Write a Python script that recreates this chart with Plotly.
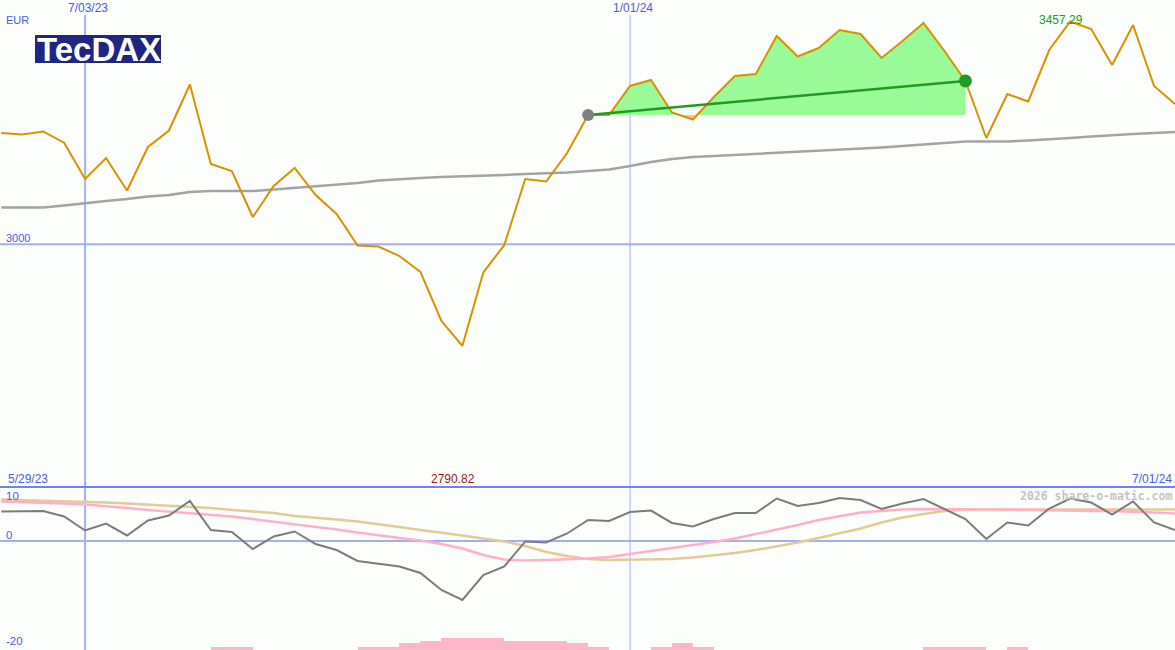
import plotly.graph_objects as go
import pandas as pd

# ---------------- data ----------------
start_date = "2023-06-05"
n_weeks = 57
dates = pd.date_range(start_date, periods=n_weeks, freq="7D")

price = [3228.3, 3225.2, 3231.4, 3208.3, 3133.8, 3176.9, 3110.2, 3199.5, 3233.4, 3327.9,
         3164.6, 3150.2, 3055.7, 3119.4, 3156.4, 3100.9, 3061.9, 2997.2, 2995.2, 2975.6,
         2942.8, 2842.1, 2790.82, 2941.8, 2998.2, 3133.8, 3128.7, 3187.2, 3265.2, 3265.2,
         3324.8, 3337.1, 3270.4, 3256.0, 3302.2, 3345.3, 3349.4, 3427.5, 3385.4, 3402.8,
         3439.8, 3431.6, 3382.3, 3417.2, 3454.2, 3396.7, 3335.1, 3218.0, 3308.4, 3293.0,
         3398.7, 3457.29, 3441.9, 3367.9, 3450.1, 3324.8, 3287.8]

moving_avg = [3075.3, 3075.3, 3075.3, 3079.4, 3084.5, 3088.6, 3092.7, 3097.8, 3100.9, 3107.1,
              3109.1, 3109.1, 3109.1, 3112.2, 3115.3, 3118.4, 3121.5, 3125.6, 3130.7, 3133.8,
              3135.8, 3137.9, 3138.9, 3139.9, 3142.0, 3144.1, 3145.1, 3147.1, 3150.2, 3153.3,
              3160.5, 3168.7, 3174.9, 3179.0, 3181.0, 3183.1, 3185.1, 3187.2, 3189.2, 3191.3,
              3193.3, 3195.4, 3198.5, 3201.6, 3204.6, 3207.7, 3210.8, 3210.8, 3210.8, 3212.9,
              3214.9, 3218.0, 3221.1, 3224.2, 3226.2, 3228.3, 3230.3]

osc_gray = [5.57, 5.57, 5.66, 4.62, 1.98, 3.30, 1.04, 3.87, 4.81, 7.55,
            2.08, 1.70, -1.51, 0.85, 1.79, -0.57, -1.70, -3.77, -4.25, -4.81,
            -6.04, -9.25, -11.13, -6.42, -4.81, -0.09, -0.28, 1.42, 3.96, 3.77,
            5.47, 5.75, 3.40, 2.74, 4.15, 5.28, 5.28, 8.02, 6.60, 7.17,
            8.11, 7.74, 6.04, 7.08, 7.92, 6.04, 4.15, 0.38, 3.49, 2.92,
            6.13, 8.02, 7.26, 5.00, 7.45, 3.49, 2.08]

osc_pink = [7.45, 7.36, 7.17, 7.08, 6.89, 6.60, 6.23, 5.85, 5.57, 5.28,
            5.00, 4.62, 4.15, 3.68, 3.11, 2.64, 2.17, 1.60, 1.04, 0.57,
            0.09, -0.57, -1.42, -2.64, -3.49, -3.68, -3.58, -3.49, -3.30, -3.02,
            -2.45, -1.89, -1.32, -0.85, -0.19, 0.47, 1.32, 2.08, 3.02, 3.96,
            4.72, 5.38, 5.66, 5.94, 6.04, 6.04, 6.04, 6.04, 5.94, 5.85,
            5.75, 5.75, 5.66, 5.66, 5.57, 5.38, 5.19]

osc_tan = [7.83, 7.74, 7.64, 7.55, 7.45, 7.26, 7.08, 6.89, 6.70, 6.51,
           6.23, 5.85, 5.57, 5.28, 4.72, 4.43, 4.06, 3.68, 3.21, 2.64,
           2.08, 1.60, 1.04, 0.47, -0.09, -0.94, -2.08, -2.83, -3.40, -3.58,
           -3.49, -3.40, -3.40, -3.11, -2.74, -2.26, -1.70, -1.04, -0.28, 0.57,
           1.51, 2.36, 3.49, 4.43, 5.09, 5.66, 5.94, 5.94, 5.94, 5.94,
           5.94, 5.85, 5.85, 5.85, 5.85, 5.94, 5.94]

hist_bars = [0, 0, 0, 0, 0, 0, 0, 0, 0, 0,
             0.62, 0.62, 0, 0, 0, 0, 0, 0.62, 0.62, 1.26,
             1.70, 2.32, 2.32, 2.32, 1.70, 1.70, 1.70, 1.26, 0.62, 0,
             0, 0.62, 1.26, 0.62, 0, 0, 0, 0, 0, 0,
             0, 0, 0, 0, 0.62, 0.62, 0.62, 0, 0.62, 0,
             0, 0, 0, 0, 0, 0, 0]

trend_start_idx = 28
trend_end_idx = 46

top_labels = ["7/03/23", "1/01/24"]
top_label_dates = ["2023-07-03", "2024-01-01"]
ref_level = 3000
panel_start_label = "5/29/23"
panel_end_label = "7/01/24"
osc_tick_labels = ["10", "0", "-20"]

# ---------------- layout constants ----------------
W, H = 1175, 650
split = 163 / 650
x_range = ["2023-06-04 14:00", "2024-07-01 00:00"]
y_top_range = [2501.2, 3501.4]
y_bot_range = [-20.57, 10.19]

BLUE_TXT = "#4B5BEF"
GRID = "#A3AEF8"
ORANGE = "#D99100"
GREEN = "#229922"

fig = go.Figure()

# ---- green/pink area between price and trend baseline ----
base = price[trend_start_idx]
seg_x = [dates[trend_start_idx]]
seg_y = [price[trend_start_idx]]
for i in range(trend_start_idx, trend_end_idx):
    a = price[i] - base
    b = price[i + 1] - base
    if a * b < 0:
        frac = a / (a - b)
        seg_x.append(dates[i] + (dates[i + 1] - dates[i]) * frac)
        seg_y.append(base)
    seg_x.append(dates[i + 1])
    seg_y.append(price[i + 1])
upper = [max(v, base) for v in seg_y]
lower = [min(v, base) for v in seg_y]
noline = dict(width=0, color="rgba(0,0,0,0)")
fig.add_trace(go.Scatter(x=seg_x, y=[base] * len(seg_x), mode="lines", line=noline,
                         hoverinfo="skip", showlegend=False))
fig.add_trace(go.Scatter(x=seg_x, y=upper, mode="lines", line=noline, fill="tonexty",
                         fillcolor="#98FB98", hoverinfo="skip", showlegend=False))
fig.add_trace(go.Scatter(x=seg_x, y=[base] * len(seg_x), mode="lines", line=noline,
                         hoverinfo="skip", showlegend=False))
fig.add_trace(go.Scatter(x=seg_x, y=lower, mode="lines", line=noline, fill="tonexty",
                         fillcolor="#FFB6C1", hoverinfo="skip", showlegend=False))

# ---- moving average and price ----
fig.add_trace(go.Scatter(x=dates, y=moving_avg, mode="lines",
                         line=dict(color="#A3A3A3", width=2.5), showlegend=False))
fig.add_trace(go.Scatter(x=dates, y=price, mode="lines",
                         line=dict(color=ORANGE, width=2), showlegend=False))

# ---- trend line with end dots ----
fig.add_trace(go.Scatter(x=[dates[trend_start_idx], dates[trend_end_idx]],
                         y=[price[trend_start_idx], price[trend_end_idx]], mode="lines",
                         line=dict(color=GREEN, width=2.5), showlegend=False))
fig.add_trace(go.Scatter(x=[dates[trend_start_idx]], y=[price[trend_start_idx]], mode="markers",
                         marker=dict(color="#808080", size=12), showlegend=False))
fig.add_trace(go.Scatter(x=[dates[trend_end_idx]], y=[price[trend_end_idx]], mode="markers",
                         marker=dict(color=GREEN, size=13), showlegend=False))

# ---- lower panel ----
bx = [d + pd.Timedelta(days=3.5) for d, v in zip(dates, hist_bars) if v > 0]
bv = [v for v in hist_bars if v > 0]
fig.add_trace(go.Bar(x=bx, y=bv, base=y_bot_range[0], width=7 * 86400000,
                     marker=dict(color="#FFB6C8", line=dict(width=0)), yaxis="y2",
                     showlegend=False))
fig.add_trace(go.Scatter(x=dates, y=osc_tan, mode="lines", yaxis="y2",
                         line=dict(color="#E3CB98", width=2.5), showlegend=False))
fig.add_trace(go.Scatter(x=dates, y=osc_pink, mode="lines", yaxis="y2",
                         line=dict(color="#FFB0C8", width=2.5), showlegend=False))
fig.add_trace(go.Scatter(x=dates, y=osc_gray, mode="lines", yaxis="y2",
                         line=dict(color="#7C7C7C", width=2), showlegend=False))

# ---- shapes ----
shapes = []
for d, w in zip(top_label_dates, [2, 1]):
    shapes.append(dict(type="line", xref="x", yref="paper", x0=d, x1=d, y0=0, y1=1 - 15 / 650,
                       line=dict(color=GRID, width=w), layer="below"))
shapes.append(dict(type="line", xref="paper", yref="y", x0=0, x1=1, y0=ref_level, y1=ref_level,
                   line=dict(color=GRID, width=2), layer="below"))
shapes.append(dict(type="line", xref="paper", yref="y2", x0=0, x1=1, y0=0, y1=0,
                   line=dict(color=GRID, width=2), layer="below"))
shapes.append(dict(type="line", xref="paper", yref="paper", x0=0, x1=1, y0=split, y1=split,
                   line=dict(color="#7383EE", width=2)))
# logo box
shapes.append(dict(type="rect", xref="paper", yref="paper", x0=35 / W, x1=161 / W,
                   y0=1 - 63 / H, y1=1 - 35 / H, fillcolor="#1F2580", line=dict(width=0)))

# ---- annotations ----
F = "Liberation Sans, Arial, sans-serif"
ann = []


def txt(text, x, y, xanchor="left", color=BLUE_TXT, size=12, xref="paper", family=F, xshift=0):
    ann.append(dict(text=text, x=x, y=1 - y / H, xref=xref, yref="paper", xanchor=xanchor,
                    yanchor="middle", showarrow=False, xshift=xshift,
                    font=dict(family=family, size=size, color=color)))


txt("EUR", 4 / W, 20, size=11)
for lab, d in zip(top_labels, top_label_dates):
    txt(lab, d, 8, xanchor="center", xref="x", xshift=3)
txt(str(ref_level), 4 / W, 238, size=11)
txt(panel_start_label, 6 / W, 479)
txt(panel_end_label, 1174 / W, 479, xanchor="right")
imax = price.index(max(price))
imin = price.index(min(price))
txt(f"{max(price):.2f}", dates[imax], 20, xanchor="center", xref="x", color=GREEN, xshift=-9)
txt(f"{min(price):.2f}", dates[imin], 479, xanchor="center", xref="x", color="#A01818", xshift=-9)
for lab, yy in zip(osc_tick_labels, [496, 535, 641]):
    txt(lab, 4 / W, yy, size=11.5)
txt("<b>2026 share-o-matic.com</b>", 1174 / W, 496, xanchor="right", color="#C4C4C4",
    size=11.5, family="DejaVu Sans Mono, monospace")
txt("<b>TecDAX</b>", 99 / W, 49, xanchor="center", color="#FFFFFF", size=33)

fig.update_layout(
    width=W, height=H,
    margin=dict(l=0, r=0, t=0, b=0),
    paper_bgcolor="#FCFEFC", plot_bgcolor="#FCFEFC",
    showlegend=False, bargap=0,
    xaxis=dict(type="date", range=x_range, visible=False, anchor="y"),
    yaxis=dict(domain=[split, 1], range=y_top_range, visible=False),
    yaxis2=dict(domain=[0, split], range=y_bot_range, visible=False, anchor="x"),
    shapes=shapes, annotations=ann,
)

fig.write_html("out.html", config={"displayModeBar": False},
               post_script="document.body.style.margin='0';document.body.style.background='#FCFEFC';")
